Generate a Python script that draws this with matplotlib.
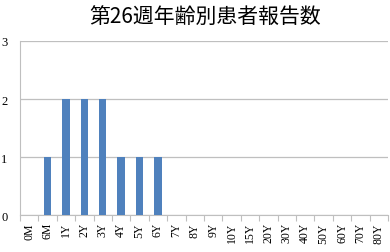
import matplotlib
matplotlib.use("Agg")
import matplotlib.pyplot as plt
import numpy as np

# 年齢区分と報告数
categories = ["0M", "6M", "1Y", "2Y", "3Y", "4Y", "5Y", "6Y", "7Y", "8Y",
              "9Y", "10Y", "15Y", "20Y", "30Y", "40Y", "50Y", "60Y", "70Y", "80Y"]
counts = [0, 1, 2, 2, 2, 1, 1, 1, 0, 0,
          0, 0, 0, 0, 0, 0, 0, 0, 0, 0]
yticks = [0, 1, 2, 3]

fig = plt.figure(figsize=(3.9, 2.53), dpi=100)
ax = fig.add_axes([0.051, 0.146, 0.944, 0.688])

x = np.arange(len(categories))
ax.bar(x, counts, width=0.4, color="#4f81bd", zorder=3)

ax.set_xlim(-0.5, len(categories) - 0.5)
ax.set_ylim(0, 3)
ax.set_yticks(yticks)
ax.set_yticklabels([str(v) for v in yticks], fontsize=9, family="Liberation Serif")
ax.yaxis.grid(True, color="#bfbfbf", linewidth=0.9, zorder=0)
ax.tick_params(axis="y", length=0, pad=9)

# カテゴリ境界の目盛り（Excel風）
ax.set_xticks(np.arange(len(categories) + 1) - 0.5)
ax.set_xticklabels([])
ax.set_xticks(x, minor=True)
ax.set_xticklabels(categories, minor=True, rotation=90, fontsize=8.5,
                   family="Liberation Serif")
ax.tick_params(axis="x", which="major", length=4, color="#bfbfbf", direction="out")
ax.tick_params(axis="x", which="minor", length=0, pad=5)

for s in ["top", "right"]:
    ax.spines[s].set_visible(False)
ax.spines["left"].set_color("#bfbfbf")
ax.spines["bottom"].set_color("#bfbfbf")

fig.text(0.526, 0.932, "第26週年齢別患者報告数", ha="center", va="center",
         fontsize=15, family=["Noto Sans CJK JP", "DejaVu Sans"])

fig.savefig("out.png", dpi=100)
